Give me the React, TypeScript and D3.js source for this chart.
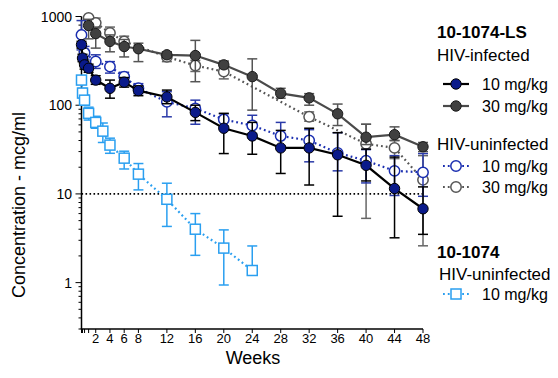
import { useEffect, useRef } from 'react';
import * as d3 from 'd3';

// sampling times in weeks (day 0, day 1, day 3, then weekly visits)
const weeks = [0, 1 / 7, 3 / 7, 1, 2, 3, 4, 6, 8, 12, 16, 20, 24, 28, 32, 36, 40, 44, 48];
const xTicks = [0, 1 / 7, 3 / 7, 1, 2, 4, 6, 8, 12, 16, 20, 24, 28, 32, 36, 40, 44, 48];
const xTickLabels = [2, 4, 6, 8, 12, 16, 20, 24, 28, 32, 36, 40, 44, 48];
const yTickLabels = [1, 10, 100, 1000];
const threshold = 10;

// 10-1074-LS, HIV-infected 10 mg/kg
const inf10 = [481, 340, 285, 261, 192, null, 155, 182, 146, 124, 83, 55, 45, 33, 33, 27.6, 21, 11.5, 6.8];
const inf10Lo = [440, 310, 255, 235, 172, null, 120, 160, 128, 104, 67, 28.5, 28, 17, 12.6, 5.6, 14, 3.2, 3.5];
const inf10Hi = [525, 375, 315, 290, 215, null, 192, 205, 165, 148, 100, 81, 64, 52, 55, 49, 32, 26, 12];

// 10-1074-LS, HIV-infected 30 mg/kg
const inf30 = [null, null, null, 790, 641, null, 524, 459, 433, 370, 363, 285, 210, 136, 121, 80, 43.6, 46.5, 34];
const inf30Lo = [null, null, null, 560, 440, null, 400, 350, 310, 340, 184, 260, 88, 120, 100, 59, 36, 40, 30];
const inf30Hi = [null, null, null, 930, 760, null, 620, 550, 500, 400, 538, 310, 333, 155, 135, 103, 61, 57, 38];

// 10-1074-LS, HIV-uninfected 10 mg/kg
const uninf10 = [620, null, 390, null, 311, null, 272, 210, 155, 109, 92, 69, 59, 45, 40, 29, 23.7, 18.2, 17.5];
const uninf10Lo = [420, null, 330, null, 260, null, 230, 185, 135, 74, 61, 58, 48, 35, 23, 18.2, 13.3, 9.6, 9.4];
const uninf10Hi = [900, null, 460, null, 370, null, 310, 235, 175, 142, 114, 80, 77, 64, 53, 49, 31.6, 27, 28.5];

// 10-1074-LS, HIV-uninfected 30 mg/kg
const uninf30 = [null, null, null, 966, 848, null, 653, 524, null, 351, 280, 239, null, null, 74, null, 36.7, 33, 14.4];
const uninf30Lo = [null, null, null, 850, 740, null, 560, 450, null, 310, 240, 198, null, null, 66, null, 5.3, 25, 2.6];
const uninf30Hi = [null, null, null, 1000, 960, null, 760, 600, null, 400, 320, 316, null, null, 84, null, 61, 40, 27];

// 10-1074, HIV-uninfected 10 mg/kg
const parent10 = [192, 137, 114, 81, 64, 51, 35.5, 25.3, 16.7, 8.7, 4.0, 2.45, 1.37, null, null, null, null, null, null];
const parent10Lo = [172, 122, 100, 68, 55, 38, 28.7, 19.1, 11.1, 4.3, 2.03, 0.94, 1.3, null, null, null, null, null, null];
const parent10Hi = [212, 155, 130, 95, 75, 63, 42.5, 30.3, 22, 13.2, 6, 3.93, 2.59, null, null, null, null, null, null];

type Style = {
    values: (number | null)[];
    lo: (number | null)[];
    hi: (number | null)[];
    line: string;
    dotted: boolean;
    fill: string;
    stroke: string;
    bar: string;
    shape: 'circle' | 'square';
};

const parentStyle: Style = { values: parent10, lo: parent10Lo, hi: parent10Hi, line: '#2a9ff0', dotted: true, fill: '#fff', stroke: '#2a9ff0', bar: '#2a9ff0', shape: 'square' };
const uninf30Style: Style = { values: uninf30, lo: uninf30Lo, hi: uninf30Hi, line: '#555', dotted: true, fill: '#fff', stroke: '#555', bar: '#666', shape: 'circle' };
const uninf10Style: Style = { values: uninf10, lo: uninf10Lo, hi: uninf10Hi, line: '#1a2eb0', dotted: true, fill: '#fff', stroke: '#1a2eb0', bar: '#2a3aa8', shape: 'circle' };
const inf30Style: Style = { values: inf30, lo: inf30Lo, hi: inf30Hi, line: '#4a4a4a', dotted: false, fill: '#404040', stroke: '#1a1a1a', bar: '#555', shape: 'circle' };
const inf10Style: Style = { values: inf10, lo: inf10Lo, hi: inf10Hi, line: '#000', dotted: false, fill: '#0a1a8a', stroke: '#000', bar: '#000', shape: 'circle' };

const drawOrder = [parentStyle, uninf30Style, uninf10Style, inf30Style, inf10Style];

const FONT = '"Liberation Sans", Arial, sans-serif';

export default function App() {
    const ref = useRef<SVGSVGElement>(null);

    useEffect(() => {
        if (!ref.current) return;
        const svg = d3.select(ref.current);
        svg.selectAll('*').remove();

        const x = d3.scaleLinear().domain([0, 48]).range([81.5, 423]);
        const y = d3.scaleLog().domain([0.3, 1000]).range([329, 16.5]);
        const x0 = x(0);
        const yb = y(0.3);

        const g = svg.append('g').attr('font-family', FONT);

        // y axis
        g.append('line').attr('x1', x0).attr('x2', x0).attr('y1', y(1000)).attr('y2', yb)
            .attr('stroke', '#000').attr('stroke-width', 1.5);
        const minor: number[] = [];
        for (let k = -1; k <= 2; k++) {
            for (let m = 1; m <= 9; m++) {
                const v = m * Math.pow(10, k);
                if (v >= 0.3 - 1e-9 && v <= 1000) minor.push(v);
            }
        }
        minor.push(1000);
        g.selectAll('.ytick').data(minor).enter().append('line')
            .attr('x1', d => (yTickLabels.includes(+d.toPrecision(3)) ? x0 - 6 : x0 - 3))
            .attr('x2', x0).attr('y1', d => y(d)).attr('y2', d => y(d))
            .attr('stroke', '#000').attr('stroke-width', 1);
        g.selectAll('.ylab').data(yTickLabels).enter().append('text')
            .attr('x', 72).attr('y', d => y(d)).attr('dy', '0.36em')
            .attr('text-anchor', 'end').attr('font-size', 14).text(d => d);

        // x axis
        g.append('line').attr('x1', x0 - 0.75).attr('x2', x(48)).attr('y1', yb).attr('y2', yb)
            .attr('stroke', '#000').attr('stroke-width', 1.5);
        g.selectAll('.xtick').data(xTicks).enter().append('line')
            .attr('x1', d => x(d)).attr('x2', d => x(d)).attr('y1', yb).attr('y2', yb + 4)
            .attr('stroke', '#000').attr('stroke-width', 1);
        g.selectAll('.xlab').data(xTickLabels).enter().append('text')
            .attr('x', d => x(d)).attr('y', 343).attr('text-anchor', 'middle')
            .attr('font-size', 13).text(d => d);

        g.append('text').attr('x', 253).attr('y', 364).attr('text-anchor', 'middle')
            .attr('font-size', 18).text('Weeks');
        g.append('text').attr('transform', 'translate(25,205) rotate(-90)')
            .attr('text-anchor', 'middle').attr('font-size', 18).text('Concentration - mcg/ml');

        // threshold line
        g.append('line').attr('x1', x0).attr('x2', x(48)).attr('y1', y(threshold)).attr('y2', y(threshold))
            .attr('stroke', '#000').attr('stroke-width', 1.6).attr('stroke-dasharray', '1.6,2.4');

        const drawMarker = (sel: d3.Selection<SVGGElement, unknown, null, undefined>, s: Style, cx: number, cy: number) => {
            if (s.shape === 'square') {
                sel.append('rect').attr('x', cx - 5).attr('y', cy - 5).attr('width', 10).attr('height', 10)
                    .attr('fill', s.fill).attr('stroke', s.stroke).attr('stroke-width', 1.5);
            } else {
                sel.append('circle').attr('cx', cx).attr('cy', cy).attr('r', 5.2)
                    .attr('fill', s.fill).attr('stroke', s.stroke).attr('stroke-width', s.fill === '#fff' ? 1.5 : 1);
            }
        };

        drawOrder.forEach(s => {
            const pts = weeks.map((w, i) => ({ w, v: s.values[i], lo: s.lo[i], hi: s.hi[i] }))
                .filter(p => p.v != null) as { w: number; v: number; lo: number | null; hi: number | null }[];
            const sg = g.append('g');

            // error bars
            pts.forEach(p => {
                if (p.lo == null || p.hi == null) return;
                const cx = x(p.w);
                sg.append('line').attr('x1', cx).attr('x2', cx).attr('y1', y(p.hi)).attr('y2', y(p.lo))
                    .attr('stroke', s.bar).attr('stroke-width', 1.5);
                [p.lo, p.hi].forEach(v => {
                    sg.append('line').attr('x1', cx - 5).attr('x2', cx + 5).attr('y1', y(v)).attr('y2', y(v))
                        .attr('stroke', s.bar).attr('stroke-width', 1.5);
                });
            });

            const line = d3.line<{ w: number; v: number }>().x(d => x(d.w)).y(d => y(d.v));
            sg.append('path').attr('d', line(pts)).attr('fill', 'none').attr('stroke', s.line)
                .attr('stroke-width', s.dotted ? 2.2 : 2.2)
                .attr('stroke-dasharray', s.dotted ? '1.8,3' : null);

            pts.forEach(p => drawMarker(sg, s, x(p.w), y(p.v)));
        });

        // legend
        const lg = g.append('g');
        const head = (t: string, yy: number, bold: boolean, xx = 437) =>
            lg.append('text').attr('x', xx).attr('y', yy).attr('font-size', 17)
                .attr('font-weight', bold ? 'bold' : 'normal').text(t);
        const row = (s: Style, yy: number, label: string) => {
            lg.append('line').attr('x1', 443).attr('x2', 469).attr('y1', yy).attr('y2', yy)
                .attr('stroke', s.line).attr('stroke-width', 2.2)
                .attr('stroke-dasharray', s.dotted ? '1.8,3' : null);
            drawMarker(lg, s, 456, yy);
            lg.append('text').attr('x', 482).attr('y', yy).attr('dy', '0.36em')
                .attr('font-size', 16).text(label);
        };
        head('10-1074-LS', 38, true);
        head('HIV-infected', 61, false);
        row(inf10Style, 84, '10 mg/kg');
        row(inf30Style, 106, '30 mg/kg');
        head('HIV-uninfected', 150, false);
        row(uninf10Style, 166, '10 mg/kg');
        row(uninf30Style, 187, '30 mg/kg');
        head('10-1074', 258, true);
        head('HIV-uninfected', 280, false, 439);
        row(parentStyle, 294, '10 mg/kg');
    }, []);

    return (
        <svg ref={ref} width={558} height={378}
            style={{ position: 'absolute', left: 0, top: 0, background: '#fff' }} />
    );
}
